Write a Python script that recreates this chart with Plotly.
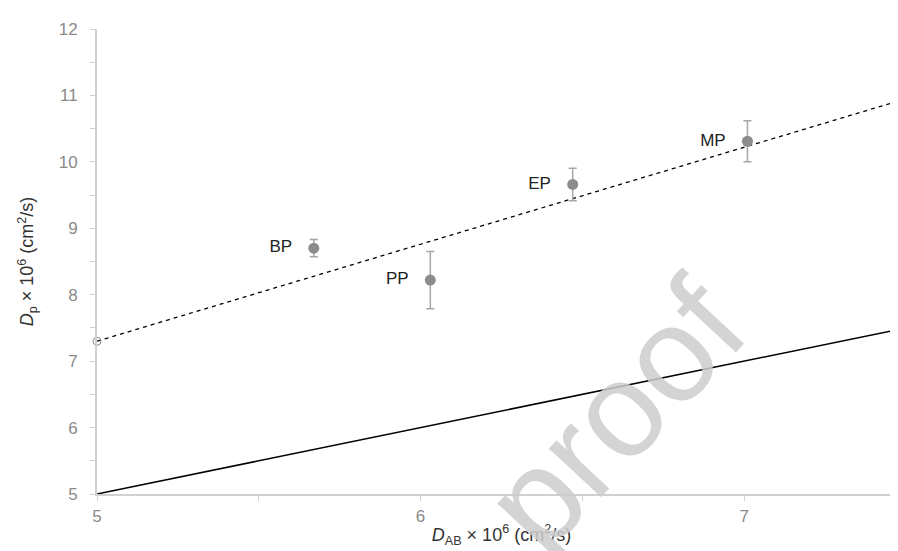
import plotly.graph_objects as go

# data
labels = ["BP", "PP", "EP", "MP"]
d_ab = [5.67, 6.03, 6.47, 7.01]
d_p = [8.70, 8.22, 9.66, 10.31]
d_p_err = [0.13, 0.43, 0.245, 0.31]

fit_x = [5.0, 7.5]
fit_y = [7.30, 10.95]
ideal_x = [5.0, 7.5]
ideal_y = [5.0, 7.5]
intercept_x = [5.0]
intercept_y = [7.30]

FONT = "Liberation Sans, Arial"

fig = go.Figure()

fig.add_trace(go.Scatter(x=ideal_x, y=ideal_y, mode="lines",
                         line=dict(color="black", width=1.5), showlegend=False, cliponaxis=False))
fig.add_trace(go.Scatter(x=fit_x, y=fit_y, mode="lines",
                         line=dict(color="black", width=1.3, dash="4px,4px"), showlegend=False, cliponaxis=False))
fig.add_trace(go.Scatter(x=intercept_x, y=intercept_y, mode="markers",
                         marker=dict(symbol="circle-open", size=8, color="#8c8c8c", line=dict(width=1)),
                         showlegend=False, cliponaxis=False))
fig.add_trace(go.Scatter(x=d_ab, y=d_p, mode="markers+text", text=[l + "   " for l in labels],
                         textposition="middle left", textfont=dict(size=17, color="#222222", family=FONT),
                         marker=dict(size=11, color="#8c8c8c"),
                         error_y=dict(type="data", array=d_p_err, color="#a6a6a6", thickness=1.5, width=4),
                         showlegend=False))

fig.add_annotation(text="proof", xref="paper", yref="paper", x=0.64, y=0.17,
                   xanchor="center", yanchor="middle",
                   showarrow=False, textangle=-47,
                   font=dict(size=135, color="rgba(205,205,205,0.85)", family=FONT))

axis_font = dict(size=17, color="#8a8a8a", family=FONT)
fig.update_xaxes(range=[5, 7.5], tickvals=[5, 6, 7], ticks="outside", ticklen=5, tickcolor="#d0d0d0",
                 showline=True, linecolor="#d0d0d0", linewidth=2, showgrid=False, zeroline=False,
                 tickfont=axis_font, ticklabelstandoff=1,
                 minor=dict(dtick=0.5, ticks="outside", ticklen=5, tickcolor="#d0d0d0"),
                 title=dict(text="<i>D</i><sub>AB</sub> × 10<sup>6</sup> (cm<sup>2</sup>/s)",
                            font=dict(size=18, color="#333333", family=FONT), standoff=3))
fig.update_yaxes(range=[5, 12], dtick=1, ticks="outside", ticklen=5, tickcolor="#d0d0d0",
                 showline=True, linecolor="#d0d0d0", linewidth=2, showgrid=False, zeroline=False,
                 tickfont=axis_font, ticklabelstandoff=9,
                 minor=dict(dtick=0.5, ticks="outside", ticklen=5, tickcolor="#d0d0d0"),
                 title=dict(text="<i>D</i><sub>p</sub> × 10<sup>6</sup> (cm<sup>2</sup>/s)",
                            font=dict(size=18, color="#333333", family=FONT), standoff=20))

fig.update_layout(width=898, height=551, margin=dict(l=89, r=0, t=21, b=65),
                  plot_bgcolor="white", paper_bgcolor="white")

fig.write_html("out.html")
